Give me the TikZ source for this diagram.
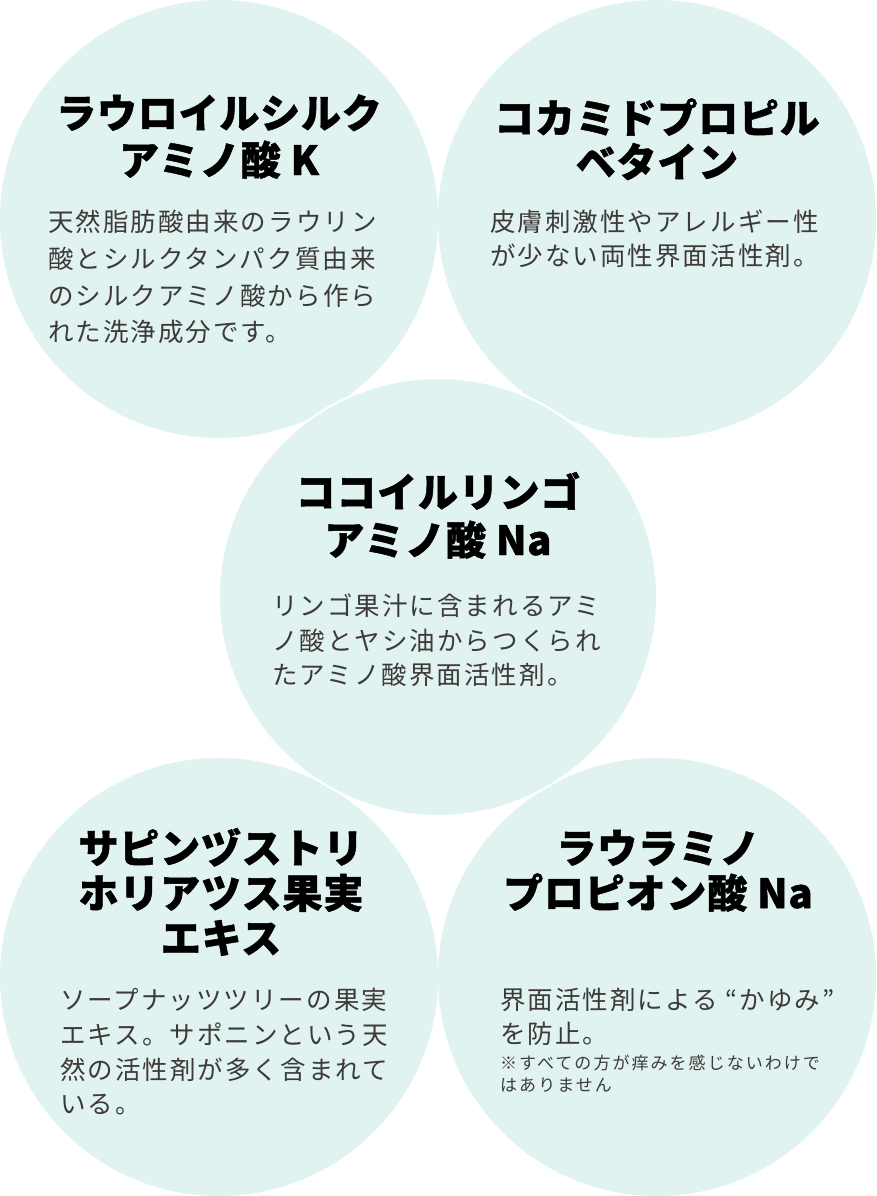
\documentclass[tikz,border=0pt]{standalone}
\usepackage{fontspec}
\newfontfamily\jpbody[LetterSpace=8]{Noto Sans CJK JP}
\newfontfamily\jpnote[LetterSpace=12]{Noto Sans CJK JP}
\newfontfamily\jptitle[LetterSpace=2,BoldFeatures={FakeBold=1.2}]{Noto Sans CJK JP}
\definecolor{disc}{RGB}{224,243,241}
\definecolor{txt}{RGB}{62,58,57}
\tikzset{
  discfill/.style={fill=disc, draw=none},
  disctop/.style={fill=disc, draw=white, line width=2pt},
  ttl/.style={anchor=base, inner sep=0pt, text=black, font=\jptitle\bfseries\fontsize{40pt}{40pt}\selectfont},
  bodytxt/.style={anchor=base west, inner sep=0pt, text=txt, font=\jpbody\fontsize{25.5pt}{25.5pt}\selectfont},
  notetxt/.style={anchor=base west, inner sep=0pt, text=txt, font=\jpnote\fontsize{17pt}{17pt}\selectfont}
}
\begin{document}
\begin{tikzpicture}[x=1pt,y=-1pt]
\useasboundingbox (0,0) rectangle (876,1196);
\fill[white] (0,0) rectangle (876,1196);
% discs
\path[discfill] (219,219) circle[radius=219];
\path[discfill] (657,219) circle[radius=219];
\path[discfill] (219,977) circle[radius=219];
\path[discfill] (657,977) circle[radius=219];
\path[disctop] (438,597) circle[radius=219];
% top-left
\node[ttl] (tl1) at (219,128) {ラウロイルシルク};
\node[ttl] (tl2) at (219,175) {アミノ酸 K};
\node[bodytxt] (tlb1) at (48,231) {天然脂肪酸由来のラウリン};
\node[bodytxt] (tlb2) at (48,268) {酸とシルクタンパク質由来};
\node[bodytxt] (tlb3) at (48,305) {のシルクアミノ酸から作ら};
\node[bodytxt] (tlb4) at (48,341) {れた洗浄成分です。};
% top-right
\node[ttl] (tr1) at (657,133) {コカミドプロピル};
\node[ttl] (tr2) at (657,177) {ベタイン};
\node[bodytxt] (trb1) at (490,231) {皮膚刺激性やアレルギー性};
\node[bodytxt] (trb2) at (490,265) {が少ない両性界面活性剤。};
% middle
\node[ttl] (m1) at (438,507) {ココイルリンゴ};
\node[ttl] (m2) at (438,555) {アミノ酸 Na};
\node[bodytxt] (mb1) at (272,615) {リンゴ果汁に含まれるアミ};
\node[bodytxt] (mb2) at (272,650) {ノ酸とヤシ油からつくられ};
\node[bodytxt] (mb3) at (272,684) {たアミノ酸界面活性剤。};
% bottom-left
\node[ttl] (bl1) at (221,863) {サピンヅストリ};
\node[ttl] (bl2) at (221,908) {ホリアツス果実};
\node[ttl] (bl3) at (221,953) {エキス};
\node[bodytxt] (blb1) at (60,1009) {ソープナッツツリーの果実};
\node[bodytxt] (blb2) at (60,1044) {エキス。サポニンという天};
\node[bodytxt] (blb3) at (60,1079) {然の活性剤が多く含まれて};
\node[bodytxt] (blb4) at (60,1113) {いる。};
% bottom-right
\node[ttl] (br1) at (658,863) {ラウラミノ};
\node[ttl] (br2) at (658,908) {プロピオン酸 Na};
\node[bodytxt] (brb1) at (500,1009) {界面活性剤による “かゆみ”};
\node[bodytxt] (brb2) at (500,1043) {を防止。};
\node[notetxt] (brn1) at (500,1069) {※すべての方が痒みを感じないわけで};
\node[notetxt] (brn2) at (500,1091) {はありません};
\end{tikzpicture}
\end{document}
